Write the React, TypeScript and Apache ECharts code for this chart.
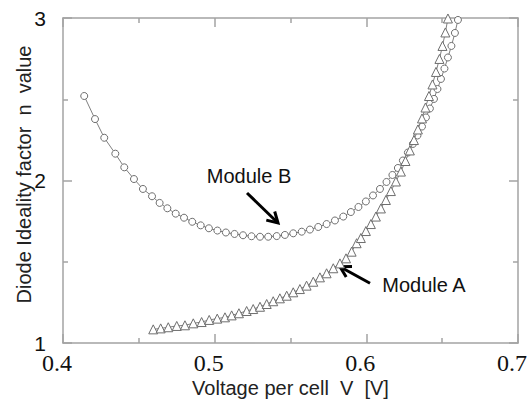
import React, { useEffect, useRef } from "react";
import * as echarts from "echarts";

// Module A (triangles): voltage per cell [V] and ideality factor n
const moduleAV = [
  0.4595, 0.4644, 0.4694, 0.475, 0.4804, 0.4859, 0.4914, 0.4964, 0.5017, 0.5068,
  0.5112, 0.516, 0.5211, 0.5254, 0.5299, 0.5343, 0.5386, 0.543, 0.5475, 0.5518,
  0.5562, 0.5606, 0.565, 0.5694, 0.5738, 0.5782, 0.5826, 0.5866, 0.5903, 0.5936,
  0.5964, 0.5997, 0.603, 0.6063, 0.6096, 0.6129, 0.6162, 0.6195, 0.6228, 0.6258,
  0.6287, 0.6314, 0.634, 0.6367, 0.639, 0.6413, 0.6436, 0.6459, 0.6482, 0.6502,
  0.6521, 0.6538,
];
const moduleAN = [
  1.084, 1.09, 1.097, 1.105, 1.109, 1.121, 1.129, 1.142, 1.15, 1.158,
  1.17, 1.183, 1.197, 1.209, 1.223, 1.24, 1.257, 1.275, 1.291, 1.312,
  1.332, 1.353, 1.377, 1.404, 1.429, 1.46, 1.49, 1.521, 1.562, 1.614,
  1.646, 1.689, 1.732, 1.778, 1.828, 1.88, 1.935, 1.994, 2.055, 2.12,
  2.185, 2.249, 2.314, 2.382, 2.449, 2.52, 2.591, 2.668, 2.748, 2.828,
  2.911, 2.997,
];

// Module B (circles)
const moduleBV = [
  0.414, 0.4211, 0.4272, 0.4345, 0.4404, 0.4468, 0.4527, 0.4587, 0.4637, 0.4688,
  0.4743, 0.4798, 0.4852, 0.4908, 0.4962, 0.5018, 0.5074, 0.5131, 0.5187, 0.5243,
  0.5299, 0.5353, 0.5409, 0.5463, 0.5518, 0.5574, 0.5628, 0.5683, 0.5738, 0.5793,
  0.5848, 0.5898, 0.5948, 0.5997, 0.6044, 0.609, 0.6133, 0.6172, 0.6208, 0.6241,
  0.6274, 0.6307, 0.6337, 0.6367, 0.6393, 0.6419, 0.6446, 0.6469, 0.6492, 0.6515,
  0.6538, 0.6561, 0.6584, 0.6604,
];
const moduleBN = [
  2.52, 2.378, 2.263, 2.165, 2.081, 2.009, 1.948, 1.903, 1.862, 1.829,
  1.796, 1.771, 1.746, 1.724, 1.706, 1.692, 1.68, 1.671, 1.663, 1.657,
  1.654, 1.654, 1.658, 1.665, 1.675, 1.685, 1.698, 1.714, 1.732, 1.754,
  1.778, 1.806, 1.837, 1.871, 1.908, 1.948, 1.991, 2.034, 2.077, 2.123,
  2.172, 2.225, 2.277, 2.332, 2.388, 2.443, 2.502, 2.563, 2.625, 2.689,
  2.757, 2.828, 2.908, 2.988,
];

const xTitle = "Voltage per cell  V  [V]";
const yTitle = "Diode Ideality factor  n  value";
const labelA = "Module A";
const labelB = "Module B";

const AXIS_COLOR = "#a3a3a3";
const SANS = "Liberation Sans";
const SERIF = "Liberation Serif";

export default function App() {
  const ref = useRef<HTMLDivElement>(null);

  useEffect(() => {
    if (!ref.current) return;
    const chart = echarts.init(ref.current, null, { renderer: "svg" });

    const axisCommon = {
      type: "value" as const,
      axisLine: { show: true, onZero: false, lineStyle: { color: AXIS_COLOR, width: 1.5 } },
      axisTick: { show: true, inside: true, length: 9, lineStyle: { color: AXIS_COLOR, width: 1.5 } },
      minorTick: { show: true, splitNumber: 2, length: 5, lineStyle: { color: AXIS_COLOR, width: 1.5 } },
      splitLine: { show: false },
      minorSplitLine: { show: false },
    };

    const pairsA = moduleAV.map((v, i) => [v, moduleAN[i]]);
    const pairsB = moduleBV.map((v, i) => [v, moduleBN[i]]);

    chart.setOption({
      animation: false,
      backgroundColor: "#ffffff",
      grid: {
        left: 63,
        right: 14,
        top: 18,
        bottom: 57,
        containLabel: false,
        outerBoundsMode: "none",
      },
      xAxis: [
        {
          ...axisCommon,
          position: "bottom",
          min: 0.4,
          max: 0.7,
          interval: 0.1,
          name: xTitle,
          nameLocation: "middle",
          nameGap: 35,
          nameMoveOverlap: false,
          nameTextStyle: { fontFamily: SANS, fontSize: 20, lineHeight: 20, color: "#222" },
          axisLabel: {
            show: true,
            margin: 8,
            fontFamily: SERIF,
            fontSize: 24,
            lineHeight: 24,
            color: "#111",
            padding: [0, 12, 0, 0],
            showMinLabel: true,
            showMaxLabel: true,
            hideOverlap: false,
            formatter: (v: number) => String(Math.round(v * 10) / 10),
          },
        },
        {
          ...axisCommon,
          position: "top",
          min: 0.4,
          max: 0.7,
          interval: 0.1,
          axisLabel: { show: false },
        },
      ],
      yAxis: [
        {
          ...axisCommon,
          position: "left",
          min: 1,
          max: 3,
          interval: 1,
          name: yTitle,
          nameLocation: "middle",
          nameGap: 29,
          nameMoveOverlap: false,
          nameTextStyle: { fontFamily: SANS, fontSize: 20, color: "#222", padding: [0, 0, 0, 12] },
          axisLabel: {
            show: true,
            margin: 17,
            fontFamily: SANS,
            fontSize: 21,
            lineHeight: 16,
            color: "#111",
            showMinLabel: true,
            showMaxLabel: true,
            hideOverlap: false,
          },
        },
        {
          ...axisCommon,
          position: "right",
          min: 1,
          max: 3,
          interval: 1,
          axisLabel: { show: false },
        },
      ],
      series: [
        {
          name: labelB,
          type: "line",
          data: pairsB,
          symbol: "circle",
          symbolSize: 7,
          showAllSymbol: true,
          clip: false,
          lineStyle: { color: "#808080", width: 1 },
          itemStyle: { color: "#ffffff", borderColor: "#6e6e6e", borderWidth: 1 },
          z: 3,
        },
        {
          name: labelA,
          type: "line",
          data: pairsA,
          symbol: "triangle",
          symbolSize: 9,
          showAllSymbol: true,
          clip: false,
          lineStyle: { color: "#808080", width: 1 },
          itemStyle: { color: "#ffffff", borderColor: "#6e6e6e", borderWidth: 1 },
          z: 4,
        },
      ],
      graphic: [
        {
          type: "text",
          x: 249,
          y: 176,
          style: {
            text: labelB,
            fontFamily: SANS,
            fontSize: 20,
            fill: "#111",
            align: "center",
            verticalAlign: "middle",
          },
        },
        {
          type: "polyline",
          shape: { points: [[247, 193], [278, 223]] },
          style: { stroke: "#000", lineWidth: 3, fill: null },
        },
        {
          type: "polyline",
          shape: { points: [[274.7, 211.5], [278, 223], [266.3, 220.1]] },
          style: { stroke: "#000", lineWidth: 3, fill: null, lineJoin: "miter" },
        },
        {
          type: "text",
          x: 424,
          y: 285,
          style: {
            text: labelA,
            fontFamily: SANS,
            fontSize: 20,
            fill: "#111",
            align: "center",
            verticalAlign: "middle",
          },
        },
        {
          type: "polyline",
          shape: { points: [[370, 283.3], [340, 266.7]] },
          style: { stroke: "#000", lineWidth: 3, fill: null },
        },
        {
          type: "polyline",
          shape: { points: [[346.2, 277], [340, 266.7], [352, 266.5]] },
          style: { stroke: "#000", lineWidth: 3, fill: null, lineJoin: "miter" },
        },
      ],
    });

    return () => chart.dispose();
  }, []);

  return <div ref={ref} style={{ width: 532, height: 400, position: "absolute", left: 0, top: 0 }} />;
}
